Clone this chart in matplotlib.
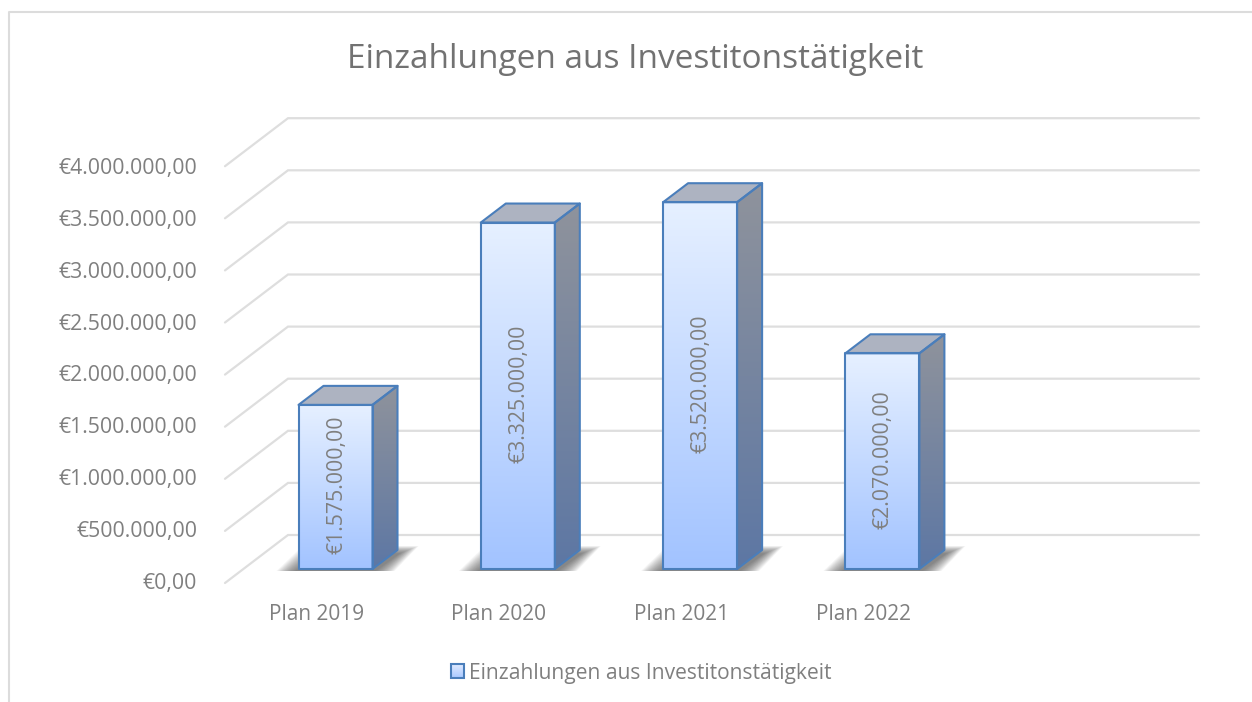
import numpy as np
import matplotlib
matplotlib.use("Agg")
import matplotlib.pyplot as plt
from matplotlib.patches import Polygon

# datos
categories = ["Plan 2019", "Plan 2020", "Plan 2021", "Plan 2022"]
values = [1575000, 3325000, 3520000, 2070000]
bar_labels = ["€1.575.000,00", "€3.325.000,00", "€3.520.000,00", "€2.070.000,00"]
y_ticks = [0, 500000, 1000000, 1500000, 2000000, 2500000, 3000000, 3500000, 4000000]
y_tick_labels = ["€0,00", "€500.000,00", "€1.000.000,00", "€1.500.000,00", "€2.000.000,00",
                 "€2.500.000,00", "€3.000.000,00", "€3.500.000,00", "€4.000.000,00"]
title = "Einzahlungen aus Investitonstätigkeit"

W, H = 1252, 702
PX_CAT = 182.3     # pixels per category
PX_EUR = 104.2e-6  # pixels per euro
X0_PX = 335.5      # pixel x of category 0
Y0_PX = 569        # pixel y of value 0 (bar front plane)
HALF_W = 37 / PX_CAT
DEPTH_X = 25 / PX_CAT
DEPTH_Y = 19 / PX_EUR

plt.rcParams["font.family"] = ["Open Sans", "DejaVu Sans"]
fig = plt.figure(figsize=(W / 100, H / 100), dpi=100, facecolor="white")
ax = fig.add_axes([0, 0, 1, 1])
xlim = (-X0_PX / PX_CAT, (W - X0_PX) / PX_CAT)
ylim = (-(H - Y0_PX) / PX_EUR, Y0_PX / PX_EUR)
ax.axis("off")


def dx(px):
    return px / PX_CAT


def dy(px):
    return px / PX_EUR


def gradient(c_top, c_bottom, box, poly, z):
    # vertical gradient clipped to a polygon
    c_top = np.array(matplotlib.colors.to_rgb(c_top))
    c_bottom = np.array(matplotlib.colors.to_rgb(c_bottom))
    t = np.linspace(0, 1, 128)[:, None, None]
    img = c_top * (1 - t) + c_bottom * t
    im = ax.imshow(img, extent=box, aspect="auto", origin="upper", zorder=z, interpolation="bilinear")
    clip = Polygon(poly, closed=True, transform=ax.transData)
    im.set_clip_path(clip)


# chart border (only top and left are visible in the crop)
ax.plot([9 / W, 9 / W, 1], [0, 1 - 12 / H, 1 - 12 / H], transform=ax.transAxes,
        color="#dcdcdc", lw=1.5, clip_on=False, zorder=1)

# gridlines: front edge -> back wall -> right end
for v in y_ticks:
    xs = [dx(225 - X0_PX), dx(288 - X0_PX), dx(1199 - X0_PX)]
    ys = [v - dy(14), v + dy(34), v + dy(34)]
    ax.plot(xs, ys, color="#dedede", lw=1.6, zorder=2, solid_capstyle="round", solid_joinstyle="miter")

for i, (v, lab) in enumerate(zip(values, bar_labels)):
    # floor shadow, stacked polygons so that the edges fade
    for grow in np.arange(0, 20, 1.0):
        s = [(i - HALF_W - dx(22 - grow), -dy(2)), (i + HALF_W + dx(22 - grow), -dy(2)),
             (i + HALF_W + dx(46 - grow), dy(23 - grow * 0.4)), (i - HALF_W + dx(4 + grow), dy(23 - grow * 0.4))]
        ax.add_patch(Polygon(s, closed=True, fc="#505050", ec="none", alpha=0.05, zorder=3))

    l, r = i - HALF_W, i + HALF_W
    front = [(l, 0), (r, 0), (r, v), (l, v)]
    side = [(r, 0), (r + DEPTH_X, DEPTH_Y), (r + DEPTH_X, v + DEPTH_Y), (r, v)]
    top = [(l, v), (r, v), (r + DEPTH_X, v + DEPTH_Y), (l + DEPTH_X, v + DEPTH_Y)]

    gradient("#8f939c", "#5d77a4", (r, r + DEPTH_X, 0, v + DEPTH_Y), side, 4)
    gradient("#e6f0ff", "#a2c3ff", (l, r, 0, v), front, 4)
    ax.add_patch(Polygon(top, closed=True, fc="#adb3c1", ec="none", zorder=4))
    for p in (side, top, front):
        ax.add_patch(Polygon(p, closed=True, fc="none", ec="#4a7ebb", lw=1.5, zorder=5, joinstyle="round"))

    ax.text(i + dx(1), v / 2 + dy(2), lab, rotation=90, ha="center", va="center",
            color="#7f7f7f", fontsize=15.3, zorder=6)
    ax.text(i - dx(19), -dy(45), categories[i], ha="center", va="center", color="#7f7f7f", fontsize=15)

# y tick labels
for v, lab in zip(y_ticks, y_tick_labels):
    ax.text(dx(197 - X0_PX), v - dy(14) - v * 0.0067, lab, ha="right", va="center",
            color="#7f7f7f", fontsize=15.3)

ax.text(dx(635 - X0_PX), dy(Y0_PX - 60), title, ha="center", va="center", color="#727272", fontsize=24)

# legend
sx0, sx1 = dx(451 - X0_PX), dx(464 - X0_PX)
sy0, sy1 = -dy(678 - Y0_PX), -dy(664 - Y0_PX)
swatch = [(sx0, sy0), (sx1, sy0), (sx1, sy1), (sx0, sy1)]
gradient("#e0ebff", "#a9c8ff", (sx0, sx1, sy0, sy1), swatch, 4)
ax.add_patch(Polygon(swatch, closed=True, fc="none", ec="#4a7ebb", lw=1.5, zorder=5))
ax.text(dx(469 - X0_PX), -dy(673 - Y0_PX), title, ha="left", va="center", color="#7f7f7f", fontsize=15.1)

ax.set_xlim(*xlim)
ax.set_ylim(*ylim)
fig.savefig("out.png", dpi=100)
